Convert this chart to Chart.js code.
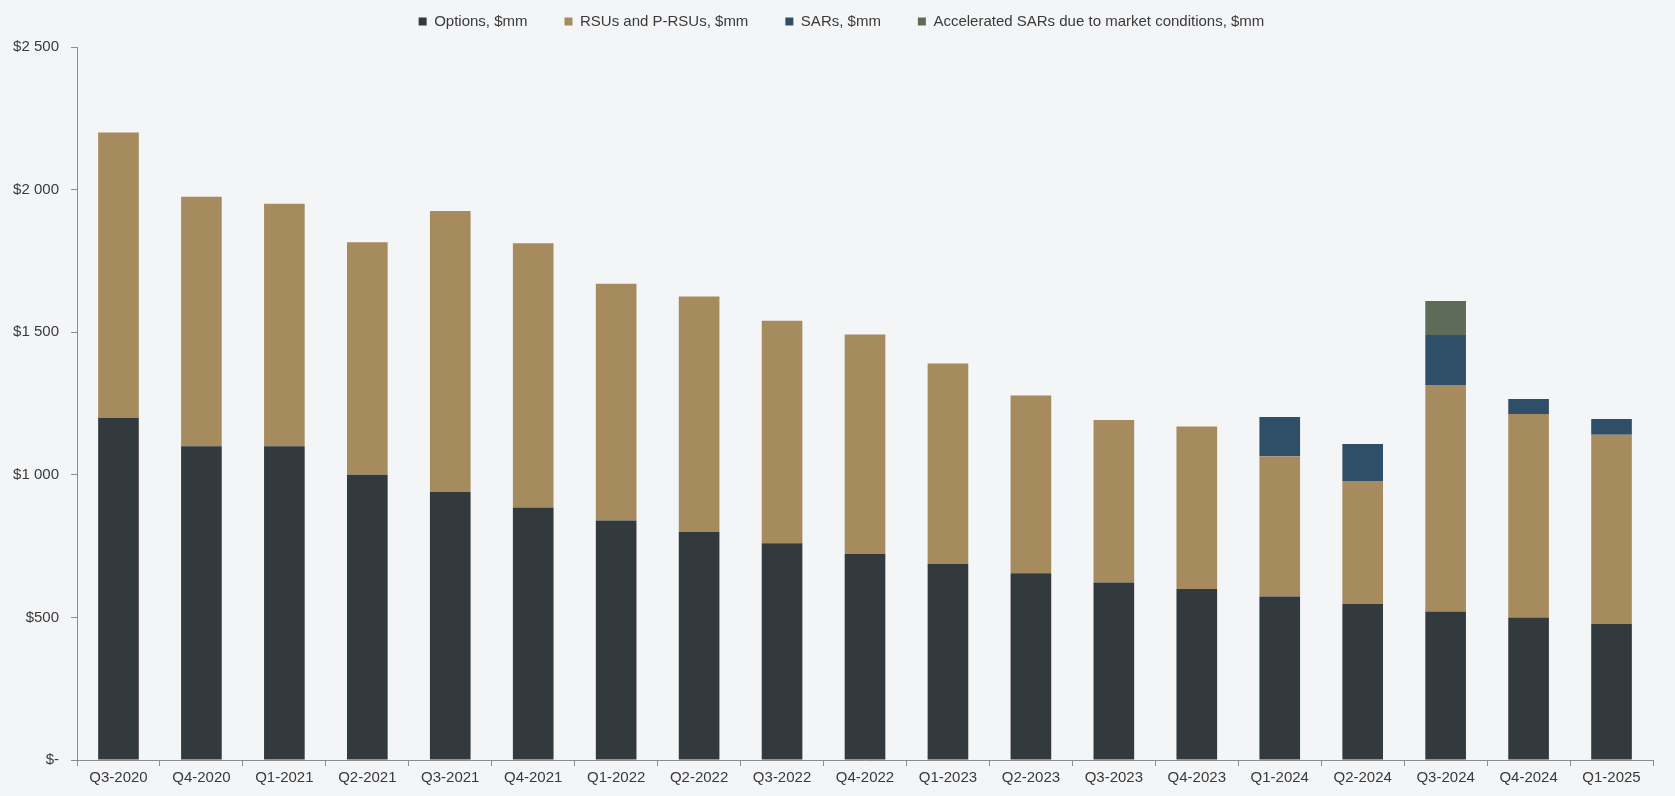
<!DOCTYPE html>
<html>
<head>
<meta charset="utf-8">
<script src="https://cdn.jsdelivr.net/npm/chart.js"></script>
<style>
  html, body { margin: 0; padding: 0; background: #f4f5f7; }
  #wrap { width: 1675px; height: 796px; }
</style>
</head>
<body>
<div id="wrap"><canvas id="compChart"></canvas></div>
<script>
  // quarters
  const quarters = ['Q3-2020', 'Q4-2020', 'Q1-2021', 'Q2-2021', 'Q3-2021', 'Q4-2021', 'Q1-2022', 'Q2-2022', 'Q3-2022', 'Q4-2022',
    'Q1-2023', 'Q2-2023', 'Q3-2023', 'Q4-2023', 'Q1-2024', 'Q2-2024', 'Q3-2024', 'Q4-2024', 'Q1-2025'];

  // $mm values
  const options = [1200, 1100, 1100, 1000, 940, 885, 840, 800, 760, 722, 688, 655, 622, 600, 573, 547, 521, 500, 477];
  const rsus = [1000, 875, 850, 815, 985, 927, 830, 825, 780, 770, 702, 623, 570, 569, 492, 431, 794, 713, 663];
  const sars = [null, null, null, null, null, null, null, null, null, null, null, null, null, null, 138, 130, 175, 53, 56];
  const accelSars = [null, null, null, null, null, null, null, null, null, null, null, null, null, null, null, null, 119, null, null];

  const yTicks = [0, 500, 1000, 1500, 2000, 2500];

  const axisColor = '#8c8c8c';
  const textColor = '#3a3a3a';
  const font = { family: "'Liberation Sans', Arial, sans-serif", size: 15 };

  // legend sits higher than its padding would allow, so pin its height,
  // and centre it on the whole canvas rather than the padded area
  const legendFix = {
    id: 'legendFix',
    beforeInit(chart) {
      const fit = chart.legend.fit;
      chart.legend.fit = function () {
        fit.bind(chart.legend)();
        this.height = 70;
      };
    },
    afterLayout(chart) {
      chart.legend.left += 15;
      chart.legend.right += 15;
    }
  };

  const ctx = document.getElementById('compChart');
  const compChart = new Chart(ctx, {
    type: 'bar',
    data: {
      labels: quarters,
      datasets: [{
        label: 'Options, $mm',
        data: options,
        backgroundColor: '#323a3e'
      },
      {
        label: 'RSUs and P-RSUs, $mm',
        data: rsus,
        backgroundColor: '#a68b5f'
      },
      {
        label: 'SARs, $mm',
        data: sars,
        backgroundColor: '#2f4f69'
      },
      {
        label: 'Accelerated SARs due to market conditions, $mm',
        data: accelSars,
        backgroundColor: '#5e6b58'
      }]
    },
    options: {
      responsive: true,
      maintainAspectRatio: false,
      animation: false,
      datasets: {
        bar: {
          barPercentage: 0.49,
          categoryPercentage: 1
        }
      },
      layout: {
        padding: { top: -23, right: 22, left: 0, bottom: 0 }
      },
      plugins: {
        tooltip: { enabled: false },
        legend: {
          position: 'top',
          labels: {
            boxWidth: 8,
            boxHeight: 8,
            padding: 37,
            color: textColor,
            font: font
          }
        }
      },
      scales: {
        x: {
          stacked: true,
          afterFit: function (scale) { scale.height = 36; },
          grid: {
            offset: true,
            drawOnChartArea: false,
            tickLength: 6,
            color: axisColor
          },
          border: { color: axisColor },
          ticks: {
            color: textColor,
            font: font,
            padding: 3,
            maxRotation: 0
          }
        },
        y: {
          stacked: true,
          min: 0,
          max: 2500,
          afterFit: function (scale) { scale.width = 77; },
          afterBuildTicks: function (scale) {
            scale.ticks = yTicks.map(v => ({ value: v }));
          },
          grid: {
            drawOnChartArea: false,
            tickLength: 6,
            color: axisColor
          },
          border: { color: axisColor },
          ticks: {
            color: textColor,
            font: font,
            padding: 12,
            callback: function (v) {
              if (v === 0) return '$-';
              return '$' + v.toLocaleString('en-US').replace(',', ' ');
            }
          }
        }
      }
    },
    plugins: [legendFix]
  });
</script>
</body>
</html>
